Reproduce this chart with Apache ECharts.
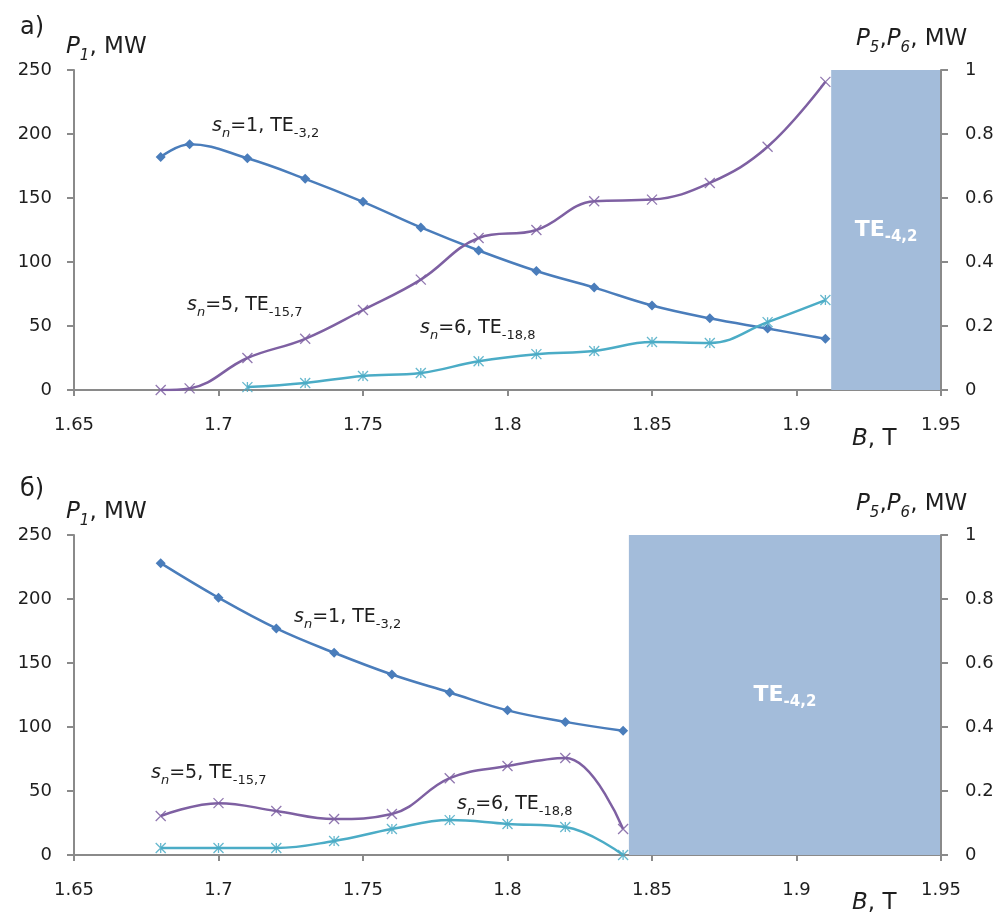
<!DOCTYPE html>
<html>
<head>
<meta charset="utf-8">
<script src="https://cdn.jsdelivr.net/npm/echarts@6/dist/echarts.min.js"></script>
<style>
  html, body { margin: 0; padding: 0; background: #fff; }
  #chart { width: 1006px; height: 917px; }
</style>
</head>
<body>
<div id="chart"></div>
<script>
// ---- a) upper panel ----
const bTopP1 = [1.68, 1.69, 1.71, 1.73, 1.75, 1.77, 1.79, 1.81, 1.83, 1.85, 1.87, 1.89, 1.91];
const p1Top  = [182, 192, 181, 165, 147, 127, 109, 93, 80, 66, 56, 48, 40];
const bTopP5 = [1.68, 1.69, 1.71, 1.73, 1.75, 1.77, 1.79, 1.81, 1.83, 1.85, 1.87, 1.89, 1.91];
const p5Top  = [0, 0.005, 0.1, 0.16, 0.25, 0.345, 0.475, 0.5, 0.59, 0.595, 0.647, 0.76, 0.963];
const bTopP6 = [1.71, 1.73, 1.75, 1.77, 1.79, 1.81, 1.83, 1.85, 1.87, 1.89, 1.91];
const p6Top  = [0.009, 0.022, 0.044, 0.053, 0.09, 0.112, 0.122, 0.15, 0.147, 0.212, 0.281];
const te42Top = [1.912, 1.95];   // B range of the TE-4,2 zone

// ---- б) lower panel ----
const bBottom  = [1.68, 1.70, 1.72, 1.74, 1.76, 1.78, 1.80, 1.82, 1.84];
const p1Bottom = [228, 201, 177, 158, 141, 127, 113, 104, 97];
const p5Bottom = [0.122, 0.162, 0.1375, 0.1125, 0.128, 0.24, 0.278, 0.303, 0.081];
const p6Bottom = [0.022, 0.022, 0.022, 0.044, 0.081, 0.109, 0.097, 0.0875, 0];
const te42Bottom = [1.842, 1.95];

// axis ranges
const bRange  = { min: 1.65, max: 1.95, interval: 0.05 };
const p1Range = { min: 0, max: 250, interval: 50 };
const p56Range = { min: 0, max: 1, interval: 0.2 };

const FONT = 'DejaVu Sans';
const AXIS_COLOR = '#8a8a8a';
const TEXT_COLOR = '#1e1e1e';
const BLUE = '#4a7dbb', PURPLE = '#7e60a2', CYAN = '#4bacc6', ZONE = '#a3bcda';

const SYM_X = 'path://M0,0L10,10M10,0L0,10';
const SYM_STAR = 'path://M0,0L10,10M10,0L0,10M5,0L5,10';

const zip = (xs, ys) => xs.map((x, i) => [x, ys[i]]);

function xAxisFor(gridIndex) {
  return {
    type: 'value', gridIndex, ...bRange,
    axisLine: { show: true, onZero: false, lineStyle: { color: AXIS_COLOR, width: 2 } },
    axisTick: { show: true, length: 6, lineStyle: { color: AXIS_COLOR, width: 2 } },
    axisLabel: { color: TEXT_COLOR, fontFamily: FONT, fontSize: 18, margin: 26 },
    splitLine: { show: false }
  };
}
function yAxisFor(gridIndex, range, pos) {
  return {
    type: 'value', gridIndex, position: pos, ...range, z: 5,
    axisLine: { show: true, lineStyle: { color: AXIS_COLOR, width: 2 } },
    axisTick: { show: true, length: 7, lineStyle: { color: AXIS_COLOR, width: 2 } },
    axisLabel: { color: TEXT_COLOR, fontFamily: FONT, fontSize: 18, margin: pos === 'left' ? 22 : 24 },
    splitLine: { show: false }
  };
}

function lineSeries(xi, yi, data, color, symbol, size, extra) {
  return Object.assign({
    type: 'line', xAxisIndex: xi, yAxisIndex: yi, data,
    smooth: 0.4, symbol, symbolSize: size,
    lineStyle: { color, width: 2.5 },
    itemStyle: symbol === 'diamond'
      ? { color }
      : { color, borderColor: color, borderWidth: 1.3, opacity: 0.85 },
    emphasis: { disabled: true },
    z: 3
  }, extra || {});
}

function zoneArea(range) {
  return {
    silent: true,
    itemStyle: { color: ZONE, opacity: 1 },
    label: {
      show: true, position: 'inside',
      formatter: '{t|TE}{s|-4,2}',
      rich: {
        t: { color: '#fff', fontFamily: FONT, fontSize: 22, fontWeight: 'bold', lineHeight: 30 },
        s: { color: '#fff', fontFamily: FONT, fontSize: 15, fontWeight: 'bold', lineHeight: 15, verticalAlign: 'bottom' }
      }
    },
    data: [[{ xAxis: range[0], yAxis: 0 }, { xAxis: range[1], yAxis: 1 }]]
  };
}

// rich text styles shared by titles and curve captions
const richBig = {
  i:  { fontFamily: FONT, fontSize: 23, fontStyle: 'italic', lineHeight: 32, fill: TEXT_COLOR },
  is: { fontFamily: FONT, fontSize: 15, fontStyle: 'italic', lineHeight: 15, verticalAlign: 'bottom', fill: TEXT_COLOR },
  r:  { fontFamily: FONT, fontSize: 23, lineHeight: 32, fill: TEXT_COLOR }
};
const richAnn = {
  i:  { fontFamily: FONT, fontSize: 19, fontStyle: 'italic', lineHeight: 28, fill: TEXT_COLOR },
  is: { fontFamily: FONT, fontSize: 13, fontStyle: 'italic', lineHeight: 14, verticalAlign: 'bottom', fill: TEXT_COLOR },
  r:  { fontFamily: FONT, fontSize: 19, lineHeight: 28, fill: TEXT_COLOR },
  s:  { fontFamily: FONT, fontSize: 13, lineHeight: 14, verticalAlign: 'bottom', fill: TEXT_COLOR }
};
function txt(left, top, text, rich) {
  return { type: 'text', left, top, silent: true, style: { text, rich } };
}
function plain(left, top, text, size) {
  return { type: 'text', left, top, silent: true,
    style: { text, fill: TEXT_COLOR, font: size + 'px "' + FONT + '"' } };
}

const chart = echarts.init(document.getElementById('chart'), null, { renderer: 'canvas' });

chart.setOption({
  backgroundColor: '#fff',
  animation: false,
  grid: [
    { left: 74, right: 65, top: 70, height: 320 },
    { left: 74, right: 65, top: 535, height: 320 }
  ],
  xAxis: [xAxisFor(0), xAxisFor(1)],
  yAxis: [
    yAxisFor(0, p1Range, 'left'), yAxisFor(0, p56Range, 'right'),
    yAxisFor(1, p1Range, 'left'), yAxisFor(1, p56Range, 'right')
  ],
  series: [
    lineSeries(0, 0, zip(bTopP1, p1Top), BLUE, 'diamond', 10),
    lineSeries(0, 1, zip(bTopP5, p5Top), PURPLE, SYM_X, 10, { markArea: zoneArea(te42Top) }),
    lineSeries(0, 1, zip(bTopP6, p6Top), CYAN, SYM_STAR, 10),
    lineSeries(1, 2, zip(bBottom, p1Bottom), BLUE, 'diamond', 10),
    lineSeries(1, 3, zip(bBottom, p5Bottom), PURPLE, SYM_X, 10, { markArea: zoneArea(te42Bottom) }),
    lineSeries(1, 3, zip(bBottom, p6Bottom), CYAN, SYM_STAR, 10)
  ],
  graphic: [
    // panel a)
    plain(20, 16, 'a)', 24),
    txt(66, 36, '{i|P}{is|1}{r|, MW}', richBig),
    txt(856, 28, '{i|P}{is|5}{r|,}{i|P}{is|6}{r|, MW}', richBig),
    txt(852, 428, '{i|B}{r|, T}', richBig),
    txt(212, 117, '{i|s}{is|n}{r|=1, TE}{s|-3,2}', richAnn),
    txt(187, 296, '{i|s}{is|n}{r|=5, TE}{s|-15,7}', richAnn),
    txt(420, 319, '{i|s}{is|n}{r|=6, TE}{s|-18,8}', richAnn),
    // panel б)
    plain(20, 478, 'б)', 24),
    txt(66, 501, '{i|P}{is|1}{r|, MW}', richBig),
    txt(856, 493, '{i|P}{is|5}{r|,}{i|P}{is|6}{r|, MW}', richBig),
    txt(852, 892, '{i|B}{r|, T}', richBig),
    txt(294, 608, '{i|s}{is|n}{r|=1, TE}{s|-3,2}', richAnn),
    txt(151, 764, '{i|s}{is|n}{r|=5, TE}{s|-15,7}', richAnn),
    txt(457, 795, '{i|s}{is|n}{r|=6, TE}{s|-18,8}', richAnn)
  ]
});
</script>
</body>
</html>
